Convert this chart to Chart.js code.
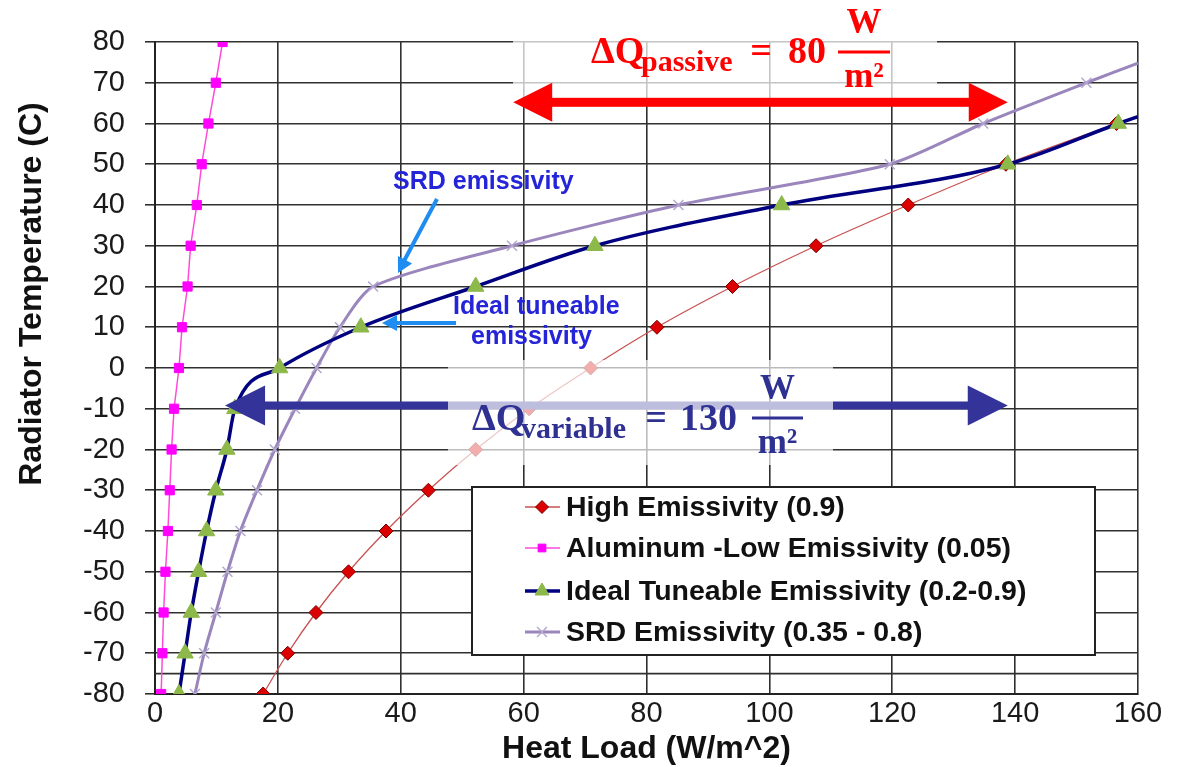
<!DOCTYPE html>
<html lang="en">
<head>
<meta charset="UTF-8">
<title>Radiator Temperature vs Heat Load</title>
<script src="https://cdn.jsdelivr.net/npm/chart.js"></script>
<style>
    body { margin: 0; background: #fff; }
    #wrap { width: 1192px; height: 767px; }
</style>
</head>
<body>
<div id="wrap"><canvas id="chart" width="1192" height="767"></canvas></div>
<script>
    // temperatures (C) for each series
    var highTemp = [-80, -70, -60, -50, -40, -30, -20, -10, 0, 10, 20, 30, 40, 50, 60];
    var aluminumTemp = [-80, -70, -60, -50, -40, -30, -20, -10, 0, 10, 20, 30, 40, 50, 60, 70, 80];
    var idealTemp = [-80, -70, -60, -50, -40, -30, -20, -10, 0, 10, 20, 30, 40, 50, 60, 61.7];
    var srdTemp = [-80, -70, -60, -50, -40, -30, -20, -10, 0, 10, 20, 30, 40, 50, 60, 70, 74.8];

    // heat load (W/m^2)
    var highLoad = [17.6, 21.6, 26.2, 31.5, 37.6, 44.5, 52.2, 60.9, 70.9, 81.7, 94.0, 107.6, 122.6, 138.5, 156.5];
    var aluminumLoad = [1.0, 1.2, 1.4, 1.7, 2.1, 2.4, 2.7, 3.1, 3.9, 4.4, 5.3, 5.8, 6.8, 7.6, 8.7, 9.9, 11.0];
    var idealLoad = [3.9, 4.9, 5.9, 7.1, 8.4, 9.9, 11.7, 13.0, 20.3, 33.5, 52.2, 71.6, 102.0, 138.8, 156.8, 160];
    var srdLoad = [6.5, 8.0, 9.9, 11.8, 13.9, 16.6, 19.5, 22.8, 26.3, 30.1, 35.5, 58.1, 85.2, 119.6, 134.8, 151.6, 160];

    var seriesNames = [
        'High Emissivity (0.9)',
        'Aluminum -Low Emissivity (0.05)',
        'Ideal Tuneable Emissivity (0.2-0.9)',
        'SRD Emissivity (0.35 - 0.8)'
    ];

    var xTicks = [0, 20, 40, 60, 80, 100, 120, 140, 160];
    var yTicks = [-80, -70, -60, -50, -40, -30, -20, -10, 0, 10, 20, 30, 40, 50, 60, 70, 80];

    function pairs(xs, ys) {
        return xs.map(function (x, i) { return { x: x, y: ys[i] }; });
    }

    // last point of the two curves only continues the line to the plot edge
    function radii(n, r) {
        var out = [];
        for (var i = 0; i < n; i++) out.push(i === n - 1 ? 0 : r);
        return out;
    }

    var SANS = '"Liberation Sans", Arial, sans-serif';
    var SERIF = '"Liberation Serif", "DejaVu Serif", serif';

    function arrowHead(ctx, tipX, tipY, fromX, fromY, len, half) {
        var a = Math.atan2(tipY - fromY, tipX - fromX);
        ctx.beginPath();
        ctx.moveTo(tipX, tipY);
        ctx.lineTo(tipX - len * Math.cos(a) + half * Math.sin(a), tipY - len * Math.sin(a) - half * Math.cos(a));
        ctx.lineTo(tipX - len * Math.cos(a) - half * Math.sin(a), tipY - len * Math.sin(a) + half * Math.cos(a));
        ctx.closePath();
        ctx.fill();
    }

    function doubleArrow(ctx, x1, x2, y, color, shaft, len, half) {
        ctx.fillStyle = color;
        ctx.fillRect(x1 + len - 2, y - shaft / 2, x2 - x1 - 2 * len + 4, shaft);
        arrowHead(ctx, x1, y, x2, y, len, half);
        arrowHead(ctx, x2, y, x1, y, len, half);
    }

    function deltaLabel(ctx, p) {
        ctx.fillStyle = p.color;
        ctx.textBaseline = 'alphabetic';
        ctx.textAlign = 'left';
        ctx.font = 'bold 38px ' + SERIF;
        ctx.fillText('\u0394Q', p.x, p.base);
        ctx.font = 'bold 30px ' + SERIF;
        ctx.fillText(p.sub, p.subX, p.base + 8);
        ctx.font = 'bold 38px ' + SERIF;
        ctx.textAlign = 'center';
        ctx.fillText('=', p.eqX, p.base);
        ctx.textAlign = 'left';
        ctx.fillText(p.value, p.valX, p.base);
        // W / m^2 fraction
        ctx.fillRect(p.fx1, p.fy - 1.5, p.fx2 - p.fx1, 3);
        ctx.textAlign = 'center';
        ctx.font = 'bold 35px ' + SERIF;
        ctx.fillText('W', (p.fx1 + p.fx2) / 2, p.fy - 19);
        ctx.fillText('m\u00B2', (p.fx1 + p.fx2) / 2, p.fy + 35);
    }

    var overlayPlugin = {
        id: 'overlay',
        beforeDatasetsDraw: function (chart) {
            // odd extra grid line at -75 seen in the original
            var ctx = chart.ctx, a = chart.chartArea;
            var y = chart.scales.y.getPixelForValue(-75);
            ctx.save();
            ctx.strokeStyle = '#303030';
            ctx.lineWidth = 1.6;
            ctx.beginPath();
            ctx.moveTo(a.left, y);
            ctx.lineTo(a.right, y);
            ctx.stroke();
            ctx.restore();
        },
        afterDatasetsDraw: function (chart) {
            var ctx = chart.ctx;
            var xs = chart.scales.x, ys = chart.scales.y;
            ctx.save();

            // passive range (red)
            ctx.fillStyle = 'rgba(255,255,255,0.72)';
            ctx.fillRect(513, 0, 424, 99);
            doubleArrow(ctx, xs.getPixelForValue(58.3), xs.getPixelForValue(138.8), ys.getPixelForValue(65.2),
                '#ff0000', 9, 39, 19.5);
            deltaLabel(ctx, { color: '#ff0000', x: 591, base: 63, sub: 'passive', subX: 641, eqX: 761,
                value: '80', valX: 788, fx1: 838, fx2: 890, fy: 52 });

            // variable range (navy)
            doubleArrow(ctx, xs.getPixelForValue(11.4), xs.getPixelForValue(138.8), ys.getPixelForValue(-9.2),
                '#333399', 8, 40, 20);
            ctx.fillStyle = 'rgba(255,255,255,0.68)';
            ctx.fillRect(448, 360, 385, 105);
            deltaLabel(ctx, { color: '#2e3192', x: 472, base: 430, sub: 'variable', subX: 521, eqX: 656,
                value: '130', valX: 680, fx1: 752, fx2: 803, fy: 418 });

            // callouts
            ctx.strokeStyle = '#1e8cf0';
            ctx.fillStyle = '#1e8cf0';
            ctx.lineWidth = 4;
            ctx.beginPath();
            ctx.moveTo(437, 199);
            ctx.lineTo(404, 261);
            ctx.stroke();
            arrowHead(ctx, 398, 273, 437, 199, 15, 8);
            ctx.beginPath();
            ctx.moveTo(456, 323);
            ctx.lineTo(394, 323);
            ctx.stroke();
            arrowHead(ctx, 382, 323, 456, 323, 15, 8);

            ctx.fillStyle = '#2424d8';
            ctx.font = 'bold 25px ' + SANS;
            ctx.textAlign = 'left';
            ctx.textBaseline = 'middle';
            ctx.fillText('SRD emissivity', 393, 182);
            ctx.fillText('Ideal tuneable', 453, 307);
            ctx.fillText('emissivity', 471, 337);

            // legend box
            var lx = 472, ly = 487, lw = 623, lh = 168;
            ctx.fillStyle = '#fff';
            ctx.fillRect(lx, ly, lw, lh);
            ctx.strokeStyle = '#222';
            ctx.lineWidth = 2;
            ctx.strokeRect(lx, ly, lw, lh);
            var rowY = [507, 548, 591, 632];
            var legR = [6.5, 5.5, 8, 7];
            chart.data.datasets.forEach(function (ds, i) {
                var y = rowY[i];
                ctx.strokeStyle = ds.borderColor;
                ctx.lineWidth = Math.min(ds.borderWidth, 3.5);
                ctx.beginPath();
                ctx.moveTo(525, y);
                ctx.lineTo(560, y);
                ctx.stroke();
                ctx.fillStyle = ds.pointBackgroundColor;
                ctx.strokeStyle = ds.pointBorderColor;
                ctx.lineWidth = ds.pointBorderWidth;
                Chart.helpers.drawPoint(ctx, {
                    pointStyle: ds.pointStyle, rotation: 0, radius: legR[i], borderWidth: ds.pointBorderWidth
                }, 542, y);
                ctx.fillStyle = '#111';
                ctx.font = 'bold 28.5px ' + SANS;
                ctx.textAlign = 'left';
                ctx.textBaseline = 'middle';
                ctx.fillText(seriesNames[i], 566, y + 1);
            });

            // y axis title, sits above the axis centre in the original
            ctx.translate(32, 294);
            ctx.rotate(-Math.PI / 2);
            ctx.fillStyle = '#111';
            ctx.font = 'bold 32px ' + SANS;
            ctx.textAlign = 'center';
            ctx.textBaseline = 'middle';
            ctx.fillText('Radiator Temperature (C)', 0, 0);
            ctx.restore();
        }
    };

    new Chart(document.getElementById('chart').getContext('2d'), {
        type: 'line',
        data: {
            datasets: [
                {
                    label: seriesNames[0],
                    data: pairs(highLoad, highTemp),
                    borderColor: '#c85252',
                    borderWidth: 1.3,
                    pointStyle: 'rectRot',
                    pointRadius: 7,
                    pointBackgroundColor: '#dd0000',
                    pointBorderColor: '#7a0000',
                    pointBorderWidth: 1,
                    cubicInterpolationMode: 'monotone',
                    order: 2
                },
                {
                    label: seriesNames[1],
                    data: pairs(aluminumLoad, aluminumTemp),
                    borderColor: '#ff4ad8',
                    borderWidth: 1.5,
                    pointStyle: 'rect',
                    pointRadius: 6.5,
                    pointBackgroundColor: '#ff00ff',
                    pointBorderColor: '#ff00ff',
                    pointBorderWidth: 1,
                    order: 3
                },
                {
                    label: seriesNames[2],
                    data: pairs(idealLoad, idealTemp),
                    borderColor: '#000080',
                    borderWidth: 3.5,
                    pointStyle: 'triangle',
                    pointRadius: radii(idealLoad.length, 9.5),
                    pointBackgroundColor: '#8db84a',
                    pointBorderColor: '#8db84a',
                    pointBorderWidth: 1,
                    cubicInterpolationMode: 'monotone',
                    order: 0
                },
                {
                    label: seriesNames[3],
                    data: pairs(srdLoad, srdTemp),
                    borderColor: '#9a86bc',
                    borderWidth: 3,
                    pointStyle: 'crossRot',
                    pointRadius: radii(srdLoad.length, 7),
                    pointBackgroundColor: '#b3a8cf',
                    pointBorderColor: '#b3a8cf',
                    pointBorderWidth: 1.5,
                    tension: 0.25,
                    order: 1
                }
            ]
        },
        options: {
            responsive: false,
            animation: false,
            layout: { padding: { left: 0, top: 42, right: 54, bottom: 0 } },
            plugins: {
                legend: { display: false },
                tooltip: { enabled: false }
            },
            scales: {
                x: {
                    type: 'linear',
                    min: 0,
                    max: 160,
                    afterFit: function (s) { s.height = 73; },
                    afterBuildTicks: function (s) { s.ticks = xTicks.map(function (v) { return { value: v }; }); },
                    grid: { color: '#303030', lineWidth: 1.6, drawTicks: false },
                    border: { color: '#222', width: 2 },
                    ticks: { color: '#1a1a1a', padding: 3, font: { family: SANS, size: 29 } },
                    title: {
                        display: true,
                        text: 'Heat Load (W/m^2)',
                        color: '#111',
                        padding: 0,
                        font: { family: SANS, size: 32, weight: 'bold', lineHeight: 1.1 }
                    }
                },
                y: {
                    type: 'linear',
                    min: -80,
                    max: 80,
                    afterFit: function (s) { s.width = 155; },
                    afterBuildTicks: function (s) { s.ticks = yTicks.map(function (v) { return { value: v }; }); },
                    grid: { color: '#303030', lineWidth: 1.6, tickLength: 10 },
                    border: { color: '#222', width: 2 },
                    ticks: { color: '#1a1a1a', padding: 20, font: { family: SANS, size: 29 } }
                }
            }
        },
        plugins: [overlayPlugin]
    });
</script>
</body>
</html>
